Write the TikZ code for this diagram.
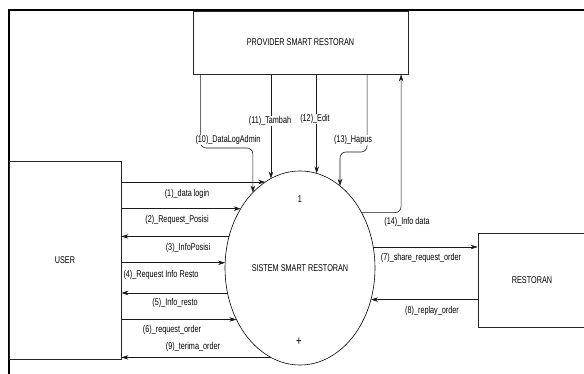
\documentclass[tikz,border=0pt]{standalone}
\usepackage{fontspec}
\setmainfont{Liberation Sans}[FakeStretch=0.74]
\usetikzlibrary{arrows.meta,shapes.geometric}
\begin{document}
\begin{tikzpicture}[x=1pt,y=-1pt,
  box/.style={draw=black!85, line width=0.8pt, rectangle, inner sep=0pt, font=\fontsize{9.8}{10}\selectfont},
  proc/.style={draw=black, line width=0.6pt, ellipse, inner sep=0pt, outer sep=0pt, minimum width=150pt, minimum height=194pt},
  flow/.style={draw=black!90, line width=0.6pt, -{Stealth[length=7pt,width=4.5pt]}},
  lbl/.style={font=\fontsize{9.8}{10}\selectfont, inner sep=0.5pt},
  lblw/.style={lbl, fill=white},
  frameline/.style={draw=black, line width=1.6pt}]
\useasboundingbox (0,0) rectangle (584,374);
\clip (0,0) rectangle (584,374);
\fill[white] (0,0) rectangle (584,374);
% frame
\draw[frameline, line width=2pt] (8.5,374) -- (8.5,10);
\draw[frameline, line width=1.5pt] (8,10) -- (584,10);
% entities
\node[box, minimum width=215pt, minimum height=63pt] (prov) at (300.5,42.5) {PROVIDER SMART RESTORAN};
\node[box, minimum width=112pt, minimum height=198pt] (user) at (65,260) {USER};
\node[box, minimum width=108pt, minimum height=94pt] (rest) at (532,280) {RESTORAN};
% process
\node[proc] (sys) at (300,268) {};
\node[lbl] (systxt) at (sys.center) {SISTEM SMART RESTORAN};
\node[lbl] (num) at (300,199) {1};
\node[lbl, font=\fontsize{13}{13}\selectfont] (plus) at (299,342) {+};
% user flows
\draw[flow] (user.east |- sys.112) -- (sys.112);
\draw[flow] (user.east |- sys.135.2) -- (sys.135.2);
\draw[flow] (sys.156.4) -- (user.east |- sys.156.4);
\draw[flow] (user.east |- sys.176.9) -- (sys.176.9);
\draw[flow] (sys.199) -- (user.east |- sys.199);
\draw[flow] (user.east |- sys.219.4) -- (sys.219.4);
\draw[flow] (sys.252.75) -- (user.east |- sys.252.75);
% restoran flows
\draw[flow] (sys.16) -- (rest.west |- sys.16);
\draw[flow] (rest.west |- sys.336.44) -- (sys.336.44);
% provider flows
\coordinate (b10) at (252,148);
\coordinate (b13) at (340,152);
\draw[flow, rounded corners=6pt] ([xshift=7.7pt]prov.south west) |- (sys.122.8 |- b10) -- (sys.122.8);
\draw[flow] (prov.south -| sys.108.4) -- (sys.108.4);
\draw[flow] (prov.south -| sys.80.85) -- (sys.80.85);
\draw[flow, rounded corners=6pt] ([xshift=-41.3pt]prov.south east) |- (sys.64 |- b13) -- (sys.64);
\draw[flow, rounded corners=6pt] (sys.42.44) -| ([xshift=-7.3pt]prov.south east);
% labels
\node[lbl] (l1) at (187,194) {(1)\_data login};
\node[lbl] (l2) at (177,220) {(2)\_Request\_Posisi};
\node[lbl] (l3) at (188,248) {(3)\_InfoPosisi};
\node[lbl] (l4) at (161,275) {(4)\_Request Info Resto};
\node[lbl] (l5) at (175,303) {(5)\_Info\_resto};
\node[lbl] (l6) at (172,330) {(6)\_request\_order};
\node[lbl] (l9) at (193,347) {(9)\_terima\_order};
\node[lbl] (l7) at (421,258) {(7)\_share\_request\_order};
\node[lbl] (l8) at (432,311) {(8)\_replay\_order};
\node[lbl] (l14) at (407,222) {(14)\_Info data};
\node[lblw] (l10) at (228,140) {(10)\_DataLogAdmin};
\node[lblw] (l11) at (270,121) {(11)\_Tambah};
\node[lblw] (l12) at (315,119) {(12)\_Edit};
\node[lblw] (l13) at (353,140) {(13)\_Hapus};
\end{tikzpicture}
\end{document}
